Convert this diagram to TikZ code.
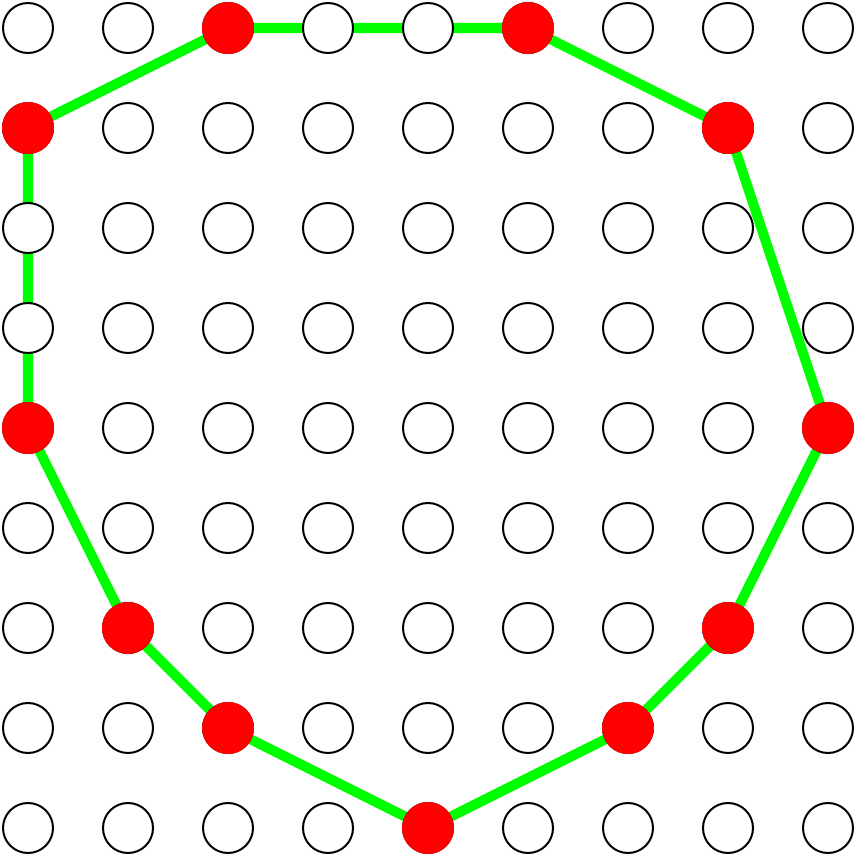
\documentclass[tikz,border=0pt]{standalone}
\definecolor{polygreen}{RGB}{0,255,0}
\definecolor{dotred}{RGB}{255,0,0}
\tikzset{
  emptydot/.style={circle, draw=black, fill=white, line width=0.57pt, minimum size=0.5cm, inner sep=0pt},
  reddot/.style={circle, fill=dotred, minimum size=0.52cm, inner sep=0pt},
  hull/.style={draw=polygreen, line width=2.85pt, line join=round}
}
\begin{document}
\begin{tikzpicture}
\useasboundingbox (0,0) rectangle (8.56,8.56);
\foreach \c in {0,...,8}{
  \foreach \r in {0,...,8}{
    \coordinate (p-\c-\r) at ({0.28+\c},{8.28-\r});
  }
}
\draw[hull] (p-0-1) -- (p-2-0) -- (p-5-0) -- (p-7-1) -- (p-8-4) -- (p-7-6) -- (p-6-7) -- (p-4-8) -- (p-2-7) -- (p-1-6) -- (p-0-4) -- cycle;
\foreach \c in {0,...,8}{
  \foreach \r in {0,...,8}{
    \node[emptydot] (n-\c-\r) at (p-\c-\r) {};
  }
}
\foreach \c/\r in {2/0,5/0,7/1,8/4,7/6,6/7,4/8,2/7,1/6,0/4,0/1}{
  \node[reddot] (r-\c-\r) at (p-\c-\r) {};
}
\end{tikzpicture}
\end{document}
